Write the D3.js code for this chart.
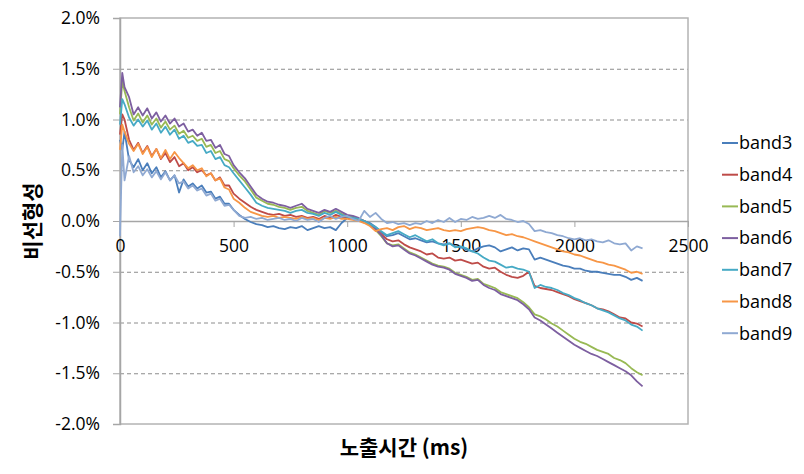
<!DOCTYPE html>
<html>
<head>
<meta charset="utf-8">
<script src="https://cdn.jsdelivr.net/npm/d3@7"></script>
<style>
  body { margin: 0; background: #fff; }
  svg { display: block; }
  text { font-family: "Open Sans", "Noto Sans CJK KR", sans-serif; fill: #000; }
  .ko { font-family: "Noto Sans CJK KR", sans-serif; }
</style>
</head>
<body>
<script>
// sample times (ms)
var times = [0,10,20,40,60,80,100,120,140,160,180,200,220,240,260,280,300,320,340,360,380,400,420,440,460,480,500,
  525,550,575,600,625,650,675,700,725,750,775,800,825,850,875,900,925,950,975,1000,
  1025,1050,1075,1100,1125,1150,1175,1200,1225,1250,1275,1300,1325,1350,1375,1400,1425,1450,1475,1500,
  1525,1550,1575,1600,1625,1650,1675,1700,1725,1750,1775,1800,1825,1850,1875,1900,1925,1950,1975,2000,
  2025,2050,2075,2100,2125,2150,2175,2200,2225,2250,2275,2300];

// non-linearity in percent
var band3 = [0.80,0.70,0.88,0.60,0.53,0.61,0.50,0.57,0.47,0.53,0.43,0.49,0.40,0.45,0.28,0.41,0.34,0.37,0.32,0.35,0.28,0.29,0.22,0.24,0.17,0.17,0.11,
  0.06,0.02,-0.01,-0.03,-0.04,-0.06,-0.05,-0.07,-0.08,-0.06,-0.07,-0.05,-0.09,-0.07,-0.05,-0.07,-0.06,-0.09,-0.02,0.03,
  0.02,0.01,0.00,-0.02,-0.06,-0.11,-0.15,-0.14,-0.12,-0.15,-0.18,-0.17,-0.19,-0.21,-0.20,-0.22,-0.23,-0.22,-0.25,-0.26,
  -0.28,-0.30,-0.27,-0.25,-0.24,-0.26,-0.30,-0.28,-0.26,-0.29,-0.27,-0.28,-0.38,-0.36,-0.38,-0.40,-0.42,-0.44,-0.45,-0.47,
  -0.47,-0.49,-0.50,-0.50,-0.51,-0.52,-0.53,-0.53,-0.55,-0.58,-0.56,-0.59];
var band4 = [0.85,1.05,1.00,0.80,0.70,0.77,0.67,0.74,0.64,0.71,0.61,0.67,0.58,0.63,0.54,0.57,0.50,0.53,0.48,0.50,0.45,0.47,0.40,0.43,0.35,0.35,0.27,
  0.22,0.18,0.14,0.11,0.09,0.07,0.06,0.07,0.05,0.06,0.04,0.05,0.03,0.04,0.02,0.05,0.03,0.06,0.04,0.03,
  0.02,0.01,0.00,-0.04,-0.08,-0.13,-0.18,-0.20,-0.19,-0.23,-0.26,-0.28,-0.30,-0.33,-0.32,-0.36,-0.37,-0.36,-0.39,-0.38,
  -0.40,-0.42,-0.41,-0.45,-0.47,-0.46,-0.50,-0.53,-0.55,-0.56,-0.54,-0.50,-0.64,-0.66,-0.67,-0.68,-0.70,-0.72,-0.74,-0.77,
  -0.79,-0.81,-0.83,-0.86,-0.87,-0.89,-0.92,-0.95,-0.96,-1.00,-1.01,-1.04];
var band5 = [1.05,1.38,1.28,1.12,0.99,1.06,0.97,1.04,0.95,1.01,0.92,0.98,0.90,0.94,0.86,0.89,0.82,0.84,0.79,0.81,0.73,0.75,0.67,0.69,0.61,0.59,0.52,
  0.45,0.39,0.31,0.23,0.20,0.17,0.16,0.14,0.13,0.11,0.13,0.14,0.10,0.08,0.06,0.10,0.08,0.10,0.07,0.05,
  0.04,0.02,0.00,-0.04,-0.09,-0.15,-0.22,-0.24,-0.23,-0.27,-0.31,-0.33,-0.36,-0.39,-0.42,-0.44,-0.45,-0.47,-0.51,-0.53,
  -0.55,-0.58,-0.57,-0.62,-0.64,-0.66,-0.70,-0.72,-0.74,-0.76,-0.80,-0.85,-0.92,-0.94,-0.97,-1.01,-1.04,-1.08,-1.12,-1.16,
  -1.19,-1.21,-1.24,-1.27,-1.29,-1.31,-1.35,-1.37,-1.40,-1.45,-1.49,-1.52];
var band6 = [1.12,1.46,1.32,1.22,1.05,1.12,1.04,1.11,1.01,1.07,0.98,1.04,0.96,1.01,0.93,0.96,0.88,0.90,0.84,0.87,0.79,0.80,0.72,0.75,0.66,0.64,0.55,
  0.48,0.42,0.34,0.26,0.22,0.19,0.18,0.16,0.15,0.13,0.15,0.17,0.12,0.10,0.08,0.11,0.09,0.12,0.09,0.06,
  0.05,0.03,0.00,-0.03,-0.08,-0.14,-0.22,-0.25,-0.24,-0.28,-0.32,-0.34,-0.37,-0.40,-0.43,-0.45,-0.46,-0.48,-0.52,-0.54,
  -0.56,-0.59,-0.58,-0.63,-0.66,-0.68,-0.72,-0.74,-0.76,-0.78,-0.82,-0.87,-0.95,-0.98,-1.02,-1.06,-1.10,-1.14,-1.18,-1.22,
  -1.25,-1.28,-1.31,-1.33,-1.36,-1.39,-1.42,-1.45,-1.48,-1.52,-1.58,-1.63];
var band7 = [0.95,1.20,1.15,1.02,0.94,1.00,0.93,0.99,0.90,0.96,0.87,0.93,0.85,0.90,0.81,0.84,0.77,0.79,0.74,0.75,0.67,0.69,0.61,0.63,0.55,0.53,0.47,
  0.40,0.33,0.26,0.18,0.15,0.13,0.12,0.11,0.10,0.08,0.10,0.11,0.08,0.07,0.05,0.08,0.06,0.09,0.06,0.04,
  0.03,0.02,0.00,-0.03,-0.06,-0.10,-0.14,-0.12,-0.10,-0.13,-0.16,-0.14,-0.17,-0.20,-0.18,-0.22,-0.24,-0.22,-0.26,-0.25,
  -0.27,-0.30,-0.32,-0.36,-0.39,-0.40,-0.43,-0.46,-0.45,-0.47,-0.48,-0.50,-0.66,-0.63,-0.65,-0.66,-0.68,-0.71,-0.73,-0.76,
  -0.78,-0.81,-0.83,-0.86,-0.88,-0.90,-0.93,-0.96,-0.98,-1.02,-1.04,-1.08];
var band8 = [0.70,0.95,0.88,0.76,0.69,0.76,0.66,0.73,0.63,0.71,0.62,0.70,0.61,0.68,0.62,0.57,0.52,0.55,0.50,0.52,0.44,0.47,0.40,0.42,0.33,0.31,0.22,
  0.18,0.13,0.09,0.07,0.05,0.04,0.05,0.03,0.04,0.03,0.02,0.04,0.02,0.03,0.01,0.03,0.02,0.04,0.02,0.02,
  0.01,0.00,-0.02,-0.05,-0.10,-0.08,-0.07,-0.09,-0.06,-0.05,-0.08,-0.06,-0.07,-0.09,-0.08,-0.07,-0.09,-0.10,-0.09,-0.10,
  -0.08,-0.07,-0.06,-0.07,-0.09,-0.10,-0.12,-0.14,-0.13,-0.15,-0.16,-0.18,-0.20,-0.22,-0.24,-0.26,-0.28,-0.30,-0.31,-0.33,
  -0.34,-0.36,-0.38,-0.40,-0.41,-0.43,-0.44,-0.46,-0.48,-0.51,-0.50,-0.52];
var band9 = [-0.15,0.75,0.40,0.64,0.48,0.54,0.45,0.51,0.43,0.49,0.41,0.48,0.40,0.45,0.37,0.39,0.32,0.35,0.30,0.32,0.25,0.27,0.20,0.22,0.15,0.16,0.11,
  0.05,0.03,0.04,0.02,0.03,0.01,0.02,0.03,0.01,0.02,0.00,0.03,0.01,0.02,-0.01,0.03,0.05,0.02,0.04,0.05,
  0.02,0.00,0.10,0.04,0.08,0.02,-0.02,-0.01,-0.03,-0.02,-0.04,-0.02,-0.03,0.00,-0.02,0.01,-0.01,0.03,-0.01,0.02,
  0.01,0.04,0.02,0.03,0.05,0.03,0.06,0.02,0.01,-0.01,0.00,-0.03,-0.10,-0.09,-0.11,-0.12,-0.14,-0.15,-0.17,-0.18,
  -0.17,-0.19,-0.18,-0.20,-0.21,-0.19,-0.22,-0.23,-0.22,-0.29,-0.25,-0.27];

var seriesNames = ["band3","band4","band5","band6","band7","band8","band9"];
var seriesValues = [band3, band4, band5, band6, band7, band8, band9];
var colors = ["#4A7EBB","#BE4B48","#98B954","#7D5FA0","#46AAC5","#F79646","#8FA9D2"];

var xTicks = [0, 500, 1000, 1500, 2000, 2500];
var yTicks = [-2.0, -1.5, -1.0, -0.5, 0.0, 0.5, 1.0, 1.5, 2.0];

var width = 804, height = 474;
var plot = {left: 120, right: 688, top: 18, bottom: 424};

var svg = d3.select("body").append("svg")
  .attr("width", width)
  .attr("height", height);

var x = d3.scaleLinear().domain([0, 2500]).range([plot.left, plot.right]);
var y = d3.scaleLinear().domain([-2, 2]).range([plot.bottom, plot.top]);

// dashed gridlines
svg.append("g")
  .selectAll("line")
  .data(yTicks.filter(function(d) { return d !== 0 && Math.abs(d) !== 2; }))
  .enter().append("line")
    .attr("x1", plot.left).attr("x2", plot.right)
    .attr("y1", function(d) { return y(d) + 0.5; })
    .attr("y2", function(d) { return y(d) + 0.5; })
    .style("stroke", "#8c8c8c")
    .style("stroke-dasharray", "4,3")
    .style("stroke-width", 1);

// plot border
svg.append("rect")
  .attr("x", plot.left).attr("y", plot.top)
  .attr("width", plot.right - plot.left)
  .attr("height", plot.bottom - plot.top)
  .style("fill", "none")
  .style("stroke", "#b3b3b3")
  .style("stroke-width", 1.5);

// y axis
var yAxis = d3.axisLeft(y)
  .tickValues(yTicks)
  .tickSize(7)
  .tickPadding(13)
  .tickFormat(function(d) { return d.toFixed(1) + "%"; });

var gy = svg.append("g")
  .attr("transform", "translate(" + plot.left + ",0)")
  .call(yAxis);
gy.select(".domain").style("stroke", "#a6a6a6").style("stroke-width", 1.5);
gy.selectAll(".tick line").style("stroke", "#a6a6a6");
gy.selectAll(".tick text").style("font-size", "17.5px").style("font-family", "Open Sans").style("fill", "#000");

// x axis crossing at 0%
var xAxis = d3.axisBottom(x)
  .tickValues(xTicks)
  .tickSize(6)
  .tickPadding(13)
  .tickSizeOuter(0)
  .tickFormat(d3.format("d"));

var gx = svg.append("g")
  .attr("transform", "translate(0," + y(0) + ")")
  .call(xAxis);
gx.select(".domain").style("stroke", "#a6a6a6").style("stroke-width", 1.5);
gx.selectAll(".tick line").style("stroke", "#a6a6a6");
gx.selectAll(".tick text").style("font-size", "17.5px").style("font-family", "Open Sans").style("fill", "#000");

// series lines
var line = d3.line()
  .x(function(d, i) { return x(times[i]); })
  .y(function(d) { return y(d); });

svg.append("g")
  .selectAll("path")
  .data(seriesValues)
  .enter().append("path")
    .attr("d", line)
    .style("fill", "none")
    .style("stroke", function(d, i) { return colors[i]; })
    .style("stroke-width", 1.8)
    .style("stroke-linejoin", "round");

// legend
var legend = svg.append("g")
  .selectAll("g")
  .data(seriesNames)
  .enter().append("g")
    .attr("transform", function(d, i) { return "translate(722," + (143 + i * 31.7) + ")"; });

legend.append("line")
  .attr("x1", 0).attr("x2", 16)
  .style("stroke", function(d, i) { return colors[i]; })
  .style("stroke-width", 2);

legend.append("text")
  .attr("x", 17)
  .attr("dy", "0.35em")
  .style("font-size", "18px")
  .text(function(d) { return d; });

// axis titles
svg.append("text")
  .attr("class", "ko")
  .attr("transform", "translate(33," + ((plot.top + plot.bottom) / 2) + ") rotate(-90)")
  .attr("text-anchor", "middle")
  .attr("dy", "0.35em")
  .style("font-size", "21px")
  .style("font-weight", "bold")
  .text("비선형성");

svg.append("text")
  .attr("class", "ko")
  .attr("x", (plot.left + plot.right) / 2)
  .attr("y", 448)
  .attr("text-anchor", "middle")
  .attr("dy", "0.35em")
  .style("font-size", "21px")
  .style("font-weight", "bold")
  .text("노출시간 (ms)");
</script>
</body>
</html>
